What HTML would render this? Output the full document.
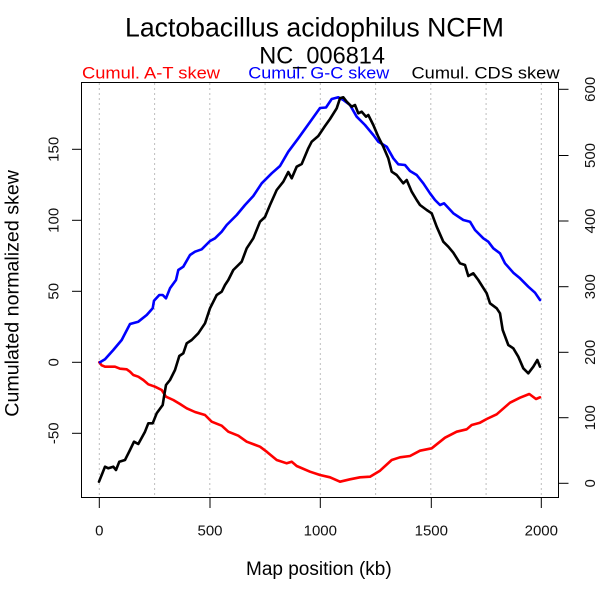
<!DOCTYPE html>
<html>
<head>
<meta charset="utf-8">
<style>
  html, body { margin:0; padding:0; background:#fff; }
  svg { display:block; }
  text { font-family: "Liberation Sans", Arial, sans-serif; }
</style>
</head>
<body>
<svg width="600" height="600" viewBox="0 0 600 600" xmlns="http://www.w3.org/2000/svg">
  <rect x="0" y="0" width="600" height="600" fill="#fff"/>

  <!-- grid -->
  <g stroke="#bdbdbd" stroke-width="1" stroke-dasharray="2,3">
    <line x1="99.3" y1="83" x2="99.3" y2="497"/>
    <line x1="154.6" y1="83" x2="154.6" y2="497"/>
    <line x1="209.8" y1="83" x2="209.8" y2="497"/>
    <line x1="265.1" y1="83" x2="265.1" y2="497"/>
    <line x1="320.3" y1="83" x2="320.3" y2="497"/>
    <line x1="375.6" y1="83" x2="375.6" y2="497"/>
    <line x1="430.8" y1="83" x2="430.8" y2="497"/>
    <line x1="486.1" y1="83" x2="486.1" y2="497"/>
    <line x1="541.3" y1="83" x2="541.3" y2="497"/>
  </g>

  <!-- series -->
  <g fill="none" stroke-width="2.6" stroke-linejoin="round" stroke-linecap="round">
    <polyline stroke="#ff0000" points="99.3,362.3 101.7,365.3 105,366.7 115,366.7 120,368.7 126.7,369.3 130,371.7 133.3,375 138.3,376.7 143.3,380 148.3,384.3 155,386.7 161.7,390 166,396.7 173.3,400 180,404 186.7,408.3 195,412 205,415 211.7,421.7 221.7,425.7 228.3,431.7 238.3,435.7 246.7,441.7 260,446.7 266.7,451.7 276.7,460 286.7,463.3 291.7,461.7 296.7,466 310,471.7 320,475 330,477.3 340,481.7 350,479.3 360,477.3 370,476.7 380,470.7 391.7,460 400,457.3 410,456 420,450.7 431.7,448.3 445,437.7 456.7,431.7 466.7,429.3 471.7,425 480,422.7 486.7,419 496.7,414.3 510,402.7 520,397.7 529.3,394 536,399 540,397.3"/>
    <polyline stroke="#0000ff" points="100,362.3 105,359.3 113.3,350 121.7,340 130,324 138.3,321.7 146.7,315 152.7,308.3 154,300.7 159.3,295 162.7,295 166,298.3 170,288.3 176,280 178.3,270 183.3,266.7 190,255 195,251.7 201.7,249.3 210,241 215,238.3 221.7,231.7 226.7,225 236.7,215 245,205 253.3,196 261.7,183.3 271.7,173.3 280,166 288.3,151.7 298.3,138.3 310,122 320,108 326,107.5 331.7,99 338.3,97.3 343.3,100 350,105 356.7,116.7 365,125 373.3,135 378.3,141.7 386.7,146.7 393.3,158.3 398.3,164.3 405,165 410,171 416.7,175 423.3,183.3 430,193.3 435,200 440,205 444,203.3 453.3,213.3 463.3,220 470,221.7 475,230 483.3,238.3 488.3,241.7 493.3,248.3 500,253.3 505,263.3 513.3,272.7 520,278.3 528.3,286.7 535,292.7 540,300"/>
    <polyline stroke="#000000" points="99,481.7 101.7,475 105,466.7 108.3,468.3 113.3,466.7 116,470 119.3,461.7 125,460 130,450 134,441.7 138.3,444 145,431.7 148.3,423.3 152.7,423.3 156.7,413.3 162.7,405 164,396.7 166,385 170,380 175,370 179.3,356 183.3,353.3 186.7,343.3 191.7,340 198.3,333.3 205,323.3 210,308.3 216.7,295 221.7,291.7 225,285 228.3,280 233.3,270 241.7,261.7 246.7,248.3 253.3,238.3 260,221.7 265,217 270,205 276.7,190 283.3,181.7 288.3,172 291.7,178.3 296.7,166.7 301.7,164 308.3,148.3 311.7,141.7 318.3,136 325,126 330,119 336.7,108.3 340,98.3 343.3,97.3 346.7,101.7 351.7,106.7 355,105 358.3,113.3 361.7,111.7 366,116.7 368.3,115 373.3,125 378.3,136.7 383.3,146.7 388.3,158.3 391.7,171.7 396.7,175 403.3,183.3 406.7,180 411.7,191.7 416.7,200 420,205 426.7,210 431.7,213.3 436.7,226.7 443.3,241.7 448.3,246.7 453.3,252.7 460,263.3 465,265 468.3,276 473.3,273.3 478.3,280 486.7,293.3 490,303.3 496.7,308.3 500,313.3 502.7,330 508.3,345 513.3,348.3 518.3,356.7 523.3,368.3 528.3,373.3 533.3,366.7 537.3,360 540,366.7"/>
  </g>

  <!-- box -->
  <rect x="81.5" y="82.5" width="477" height="415" fill="none" stroke="#000" stroke-width="1"/>

  <!-- bottom ticks -->
  <g stroke="#000" stroke-width="1">
    <line x1="99.3" y1="497.5" x2="99.3" y2="508"/>
    <line x1="210" y1="497.5" x2="210" y2="508"/>
    <line x1="320.3" y1="497.5" x2="320.3" y2="508"/>
    <line x1="431.3" y1="497.5" x2="431.3" y2="508"/>
    <line x1="541.3" y1="497.5" x2="541.3" y2="508"/>
    <!-- left ticks -->
    <line x1="72" y1="433.3" x2="81.5" y2="433.3"/>
    <line x1="72" y1="362.3" x2="81.5" y2="362.3"/>
    <line x1="72" y1="291.3" x2="81.5" y2="291.3"/>
    <line x1="72" y1="220.3" x2="81.5" y2="220.3"/>
    <line x1="72" y1="149.3" x2="81.5" y2="149.3"/>
    <!-- right ticks -->
    <line x1="558.5" y1="483.3" x2="568.5" y2="483.3"/>
    <line x1="558.5" y1="417.7" x2="568.5" y2="417.7"/>
    <line x1="558.5" y1="352.3" x2="568.5" y2="352.3"/>
    <line x1="558.5" y1="286.7" x2="568.5" y2="286.7"/>
    <line x1="558.5" y1="221" x2="568.5" y2="221"/>
    <line x1="558.5" y1="155.5" x2="568.5" y2="155.5"/>
    <line x1="558.5" y1="89.3" x2="568.5" y2="89.3"/>
  </g>

  <!-- bottom tick labels -->
  <g font-size="15" fill="#111" text-anchor="middle">
    <text x="99.3" y="535.7">0</text>
    <text x="210" y="535.7">500</text>
    <text x="320.3" y="535.7">1000</text>
    <text x="431.3" y="535.7">1500</text>
    <text x="541.3" y="535.7">2000</text>
  </g>

  <!-- left tick labels -->
  <g font-size="15" fill="#111" text-anchor="middle">
    <text transform="translate(58.3,433.3) rotate(-90)">-50</text>
    <text transform="translate(58.3,362.3) rotate(-90)">0</text>
    <text transform="translate(58.3,291.3) rotate(-90)">50</text>
    <text transform="translate(58.3,220.3) rotate(-90)">100</text>
    <text transform="translate(58.3,149.3) rotate(-90)">150</text>
  </g>

  <!-- right tick labels -->
  <g font-size="15" fill="#111" text-anchor="middle">
    <text transform="translate(595,483.3) rotate(-90)">0</text>
    <text transform="translate(595,417.7) rotate(-90)">100</text>
    <text transform="translate(595,352.3) rotate(-90)">200</text>
    <text transform="translate(595,286.7) rotate(-90)">300</text>
    <text transform="translate(595,221) rotate(-90)">400</text>
    <text transform="translate(595,155.5) rotate(-90)">500</text>
    <text transform="translate(595,89.3) rotate(-90)">600</text>
  </g>

  <!-- axis titles -->
  <text x="246" y="575" font-size="19" fill="#000" textLength="145.7" lengthAdjust="spacingAndGlyphs">Map position (kb)</text>
  <text transform="translate(18.3,293.4) rotate(-90)" font-size="19" fill="#000" text-anchor="middle" textLength="246.7" lengthAdjust="spacingAndGlyphs">Cumulated normalized skew</text>

  <!-- legend labels -->
  <text x="82" y="78.3" font-size="17" fill="#ff0000" textLength="138" lengthAdjust="spacingAndGlyphs">Cumul. A-T skew</text>
  <text x="248.3" y="78.3" font-size="17" fill="#0000ff" textLength="141" lengthAdjust="spacingAndGlyphs">Cumul. G-C skew</text>
  <text x="411.5" y="78.3" font-size="17" fill="#000" textLength="148" lengthAdjust="spacingAndGlyphs">Cumul. CDS skew</text>

  <!-- title -->
  <text x="125" y="36.7" font-size="27" fill="#000" textLength="379" lengthAdjust="spacingAndGlyphs">Lactobacillus acidophilus NCFM</text>
  <text x="259.3" y="63.3" font-size="24" fill="#000" textLength="125.7" lengthAdjust="spacingAndGlyphs">NC_006814</text>
</svg>
</body>
</html>
